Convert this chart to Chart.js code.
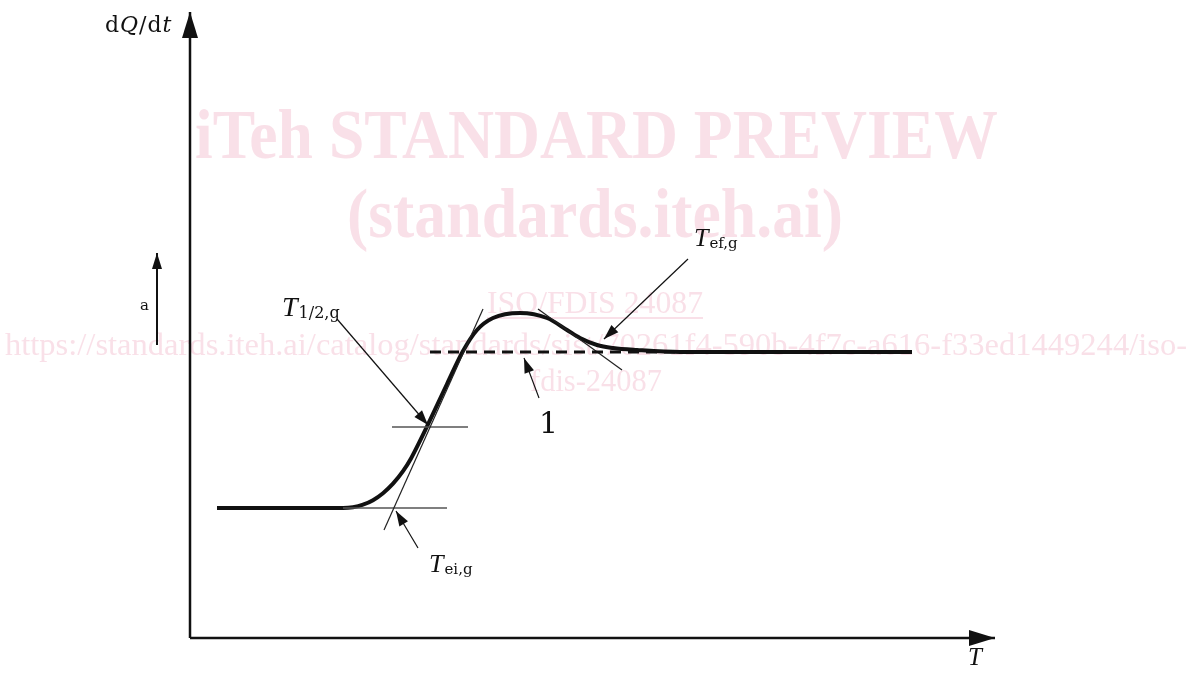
<!DOCTYPE html>
<html>
<head>
<meta charset="utf-8">
<script src="https://cdn.jsdelivr.net/npm/chart.js@4.4.1/dist/chart.umd.min.js"></script>
<style>
  html, body { margin: 0; padding: 0; background: #fff; }
  #wrap { width: 1192px; height: 675px; }
</style>
</head>
<body>
<div id="wrap"><canvas id="c" width="1192" height="675"></canvas></div>
<script>
// heat-flow curve dQ/dt against T (schematic, arbitrary units from the axis origin)
const curveT = [27, 153, 163, 173, 183, 193, 203, 213, 221, 229, 238, 257, 273, 287, 303, 330, 357, 377, 390, 407, 423, 447, 490, 722]
const curveQ = [130, 130, 130.8, 133.3, 137.8, 144.8, 154.3, 166.8, 179.6, 195.2, 213.7, 254, 287, 308, 320, 325, 320, 308, 300, 293, 290, 288, 286, 286]

// dashed baseline after the step (key 1)
const stepT = [240, 722]
const stepQ = [286, 286]

// construction lines: tangents and level marks
const riseTanT = [194, 293], riseTanQ = [108, 329]
const fallTanT = [348, 432], fallTanQ = [329, 268]
const halfMarkT = [202, 278], halfMarkQ = [211, 211]
const baseMarkT = [153, 257], baseMarkQ = [130, 130]

// leader arrows (tail -> tip)
const arrowHalfT = [147, 238], arrowHalfQ = [319, 213]
const arrowEiT = [228, 206], arrowEiQ = [90, 127]
const arrowEfT = [498, 414], arrowEfQ = [379, 299]
const arrowOneT = [349, 334], arrowOneQ = [240, 280]
const arrowAT = [-33, -33], arrowAQ = [293, 385]

// axes
const axisYT = [0, 0], axisYQ = [0, 626]
const axisXT = [0, 805], axisXQ = [0, 0]

const pts = (xs, ys) => xs.map((x, i) => ({ x, y: ys[i] }))

function line (data, width, color, extra) {
  return Object.assign({
    data, showLine: true, borderColor: color, borderWidth: width,
    pointRadius: 0, tension: 0, fill: false
  }, extra || {})
}

const serif = '"Liberation Serif", "DejaVu Serif", serif'
const subFont = '"DejaVu Serif", serif'

// text labels placed in data units
const labels = [
  { x: -85, y: 606, parts: [['d', 'normal'], ['Q', 'italic'], ['/', 'normal'], ['d', 'normal'], ['t', 'italic']], size: 22 },
  { x: 92, y: 322, main: 'T', sub: '1/2,g', size: 28, subSize: 16 },
  { x: 504, y: 392, main: 'T', sub: 'ef,g', size: 26, subSize: 15 },
  { x: 239, y: 66, main: 'T', sub: 'ei,g', size: 26, subSize: 15 },
  { x: 778, y: -27, main: 'T', size: 25 },
  { x: 349, y: 205, plain: '1', size: 30, font: subFont },
  { x: -50, y: 328, plain: 'a', size: 15, font: subFont }
]

const bgPlugin = {
  id: 'bg',
  beforeDraw (chart) {
    const ctx = chart.ctx
    ctx.save()
    ctx.fillStyle = '#fff'
    ctx.fillRect(0, 0, chart.width, chart.height)
    // watermark
    ctx.fillStyle = 'rgba(236, 160, 185, 0.33)'
    const fit = (txt, x1, x2, base, font) => {
      ctx.font = font
      const w = ctx.measureText(txt).width
      ctx.save()
      ctx.translate(x1, base)
      ctx.scale((x2 - x1) / w, 1)
      ctx.fillText(txt, 0, 0)
      ctx.restore()
    }
    ctx.textBaseline = 'alphabetic'
    fit('iTeh STANDARD PREVIEW', 195, 998, 158, 'bold 70px ' + serif)
    fit('(standards.iteh.ai)', 347, 843, 237, 'bold 70px ' + serif)
    fit('ISO/FDIS 24087', 487, 703, 313, '31px ' + serif)
    ctx.fillRect(487, 317, 216, 2)
    fit('https://standards.iteh.ai/catalog/standards/sist/70261f4-590b-4f7c-a616-f33ed1449244/iso-', 5, 1187, 355, '31px ' + serif)
    fit('fdis-24087', 530, 662, 391, '31px ' + serif)
    ctx.restore()
  }
}

const arrowPlugin = {
  id: 'arrows',
  afterDatasetsDraw (chart) {
    const ctx = chart.ctx
    chart.data.datasets.forEach((ds, i) => {
      if (!ds.arrow) return
      const meta = chart.getDatasetMeta(i)
      const n = meta.data.length
      const a = meta.data[n - 2], b = meta.data[n - 1]
      const ang = Math.atan2(b.y - a.y, b.x - a.x)
      const [len, half] = ds.arrow
      ctx.save()
      ctx.fillStyle = ds.borderColor
      ctx.translate(b.x, b.y)
      ctx.rotate(ang)
      ctx.beginPath()
      ctx.moveTo(0, 0)
      ctx.lineTo(-len, -half)
      ctx.lineTo(-len, half)
      ctx.closePath()
      ctx.fill()
      ctx.restore()
    })
    // labels
    const sx = chart.scales.x, sy = chart.scales.y
    ctx.save()
    ctx.fillStyle = '#111'
    ctx.textBaseline = 'alphabetic'
    labels.forEach(l => {
      let px = sx.getPixelForValue(l.x)
      const py = sy.getPixelForValue(l.y)
      if (l.parts) {
        l.parts.forEach(([s, st]) => {
          ctx.font = st + ' ' + l.size + 'px ' + subFont
          ctx.fillText(s, px, py)
          px += ctx.measureText(s).width + 1
        })
      } else if (l.plain) {
        ctx.font = l.size + 'px ' + (l.font || serif)
        ctx.fillText(l.plain, px, py)
      } else {
        ctx.font = 'italic ' + l.size + 'px ' + serif
        ctx.fillText(l.main, px, py)
        if (l.sub) {
          const w = ctx.measureText(l.main).width
          ctx.font = l.subSize + 'px ' + subFont
          ctx.fillText(l.sub, px + w + 1, py + 2)
        }
      }
    })
    ctx.restore()
  }
}

new Chart(document.getElementById('c'), {
  type: 'scatter',
  data: {
    datasets: [
      line(pts(stepT, stepQ), 3, '#111', { borderDash: [11, 7] }),
      line(pts(riseTanT, riseTanQ), 1.2, '#222'),
      line(pts(fallTanT, fallTanQ), 1.2, '#222'),
      line(pts(halfMarkT, halfMarkQ), 1.5, '#555'),
      line(pts(baseMarkT, baseMarkQ), 1.5, '#555'),
      line(pts(curveT, curveQ), 4, '#111', { cubicInterpolationMode: 'monotone' }),
      line(pts(arrowHalfT, arrowHalfQ), 1.2, '#111', { arrow: [15, 5] }),
      line(pts(arrowEiT, arrowEiQ), 1.2, '#111', { arrow: [15, 5] }),
      line(pts(arrowEfT, arrowEfQ), 1.2, '#111', { arrow: [15, 5] }),
      line(pts(arrowOneT, arrowOneQ), 1.2, '#111', { arrow: [15, 5] }),
      line(pts(arrowAT, arrowAQ), 2, '#111', { arrow: [16, 5] }),
      line(pts(axisYT, axisYQ), 2.5, '#111', { arrow: [26, 8] }),
      line(pts(axisXT, axisXQ), 2.5, '#111', { arrow: [26, 8] })
    ]
  },
  options: {
    responsive: false,
    animation: false,
    layout: { padding: 0 },
    plugins: { legend: { display: false }, tooltip: { enabled: false } },
    scales: {
      x: { type: 'linear', min: -190, max: 1002, display: false },
      y: { type: 'linear', min: -37, max: 638, display: false }
    }
  },
  plugins: [bgPlugin, arrowPlugin]
})
</script>
</body>
</html>
